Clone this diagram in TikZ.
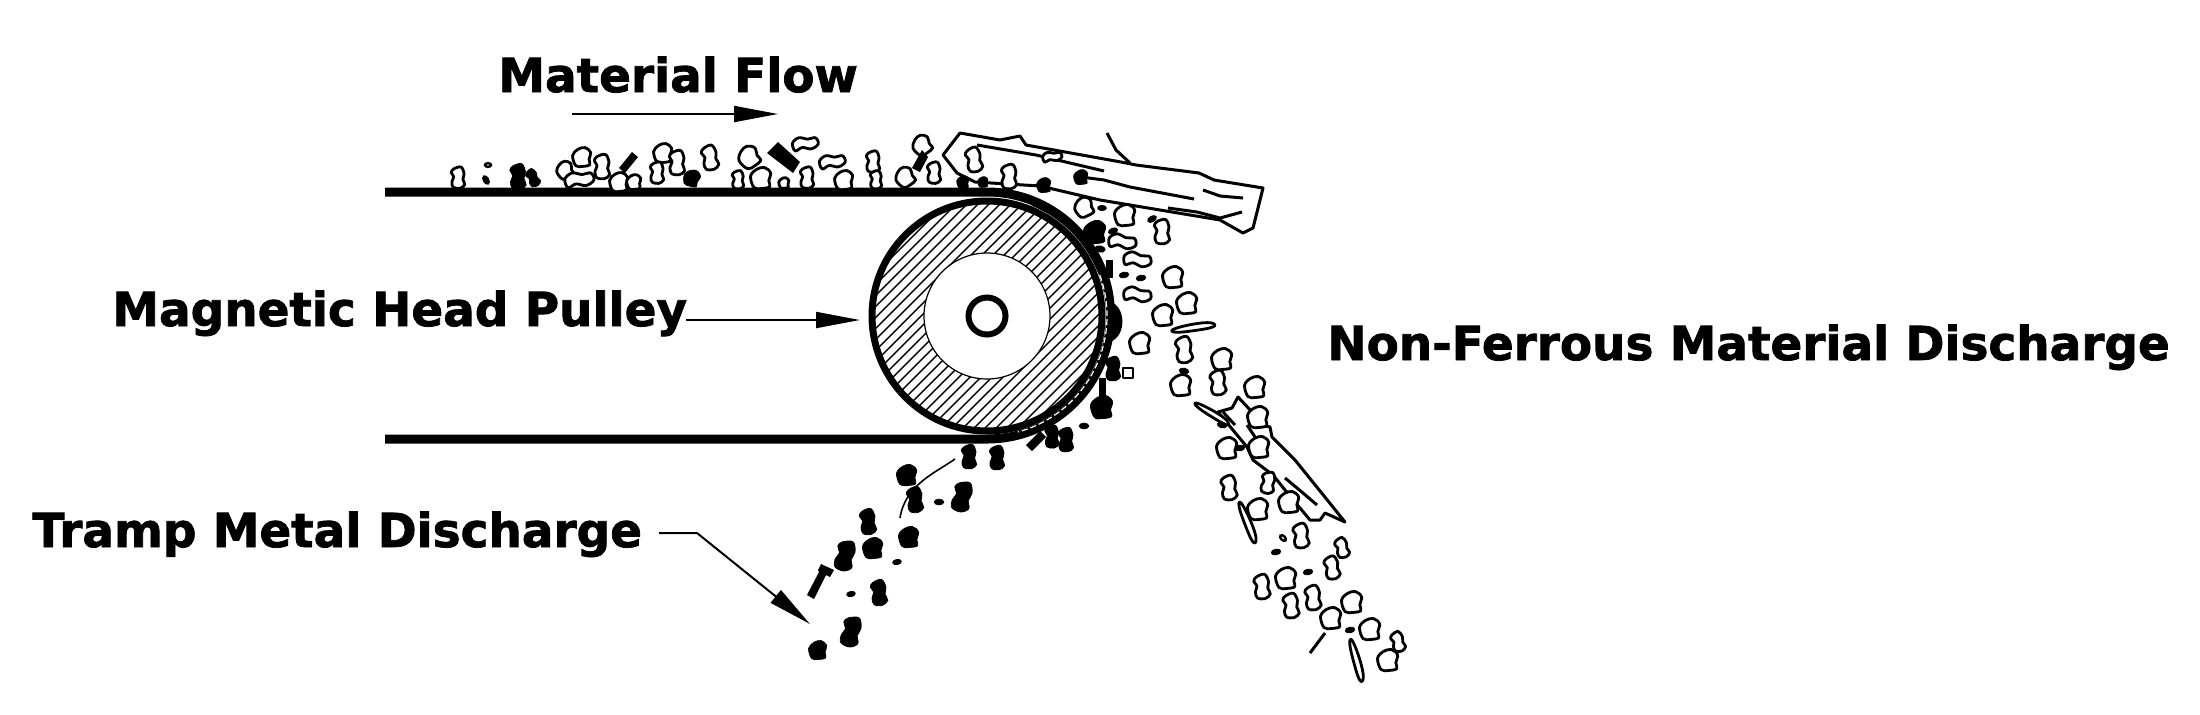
\documentclass[tikz,border=0pt]{standalone}
\usepackage{fontspec}
\usetikzlibrary{arrows.meta}
\newfontfamily\labelfont[FakeBold=1.6]{DejaVu Sans Bold}

\tikzset{
  rock/.style={draw,fill=white,line width=1.4pt,line join=round},
  slug/.style={draw,fill=black,line width=0.4pt},
  caption/.style={anchor=base west,inner sep=0pt,font=\labelfont\fontsize{23.45}{28}\selectfont},
  leader/.style={line width=1pt,-{Triangle[length=22pt,width=8pt]}},
  timber/.style={line width=1.5pt,line join=round},
  blob/.pic={\path[pic actions] plot[smooth cycle,tension=0.6] coordinates {(-12,-2) (-5,-10) (4,-12) (11,-6) (9,3) (10,10) (1,12) (-8,11)};},
  peanut/.pic={\path[pic actions] plot[smooth cycle,tension=0.6] coordinates {(-7,-15) (5,-18) (10,-7) (8,2) (11,11) (3,17) (-8,15) (-10,6) (-7,-2) (-11,-9)};},
  bean/.pic={\path[pic actions] plot[smooth cycle,tension=0.6] coordinates {(-18,-1) (-9,-9) (4,-7) (15,-9) (19,0) (9,7) (-4,5) (-14,10)};},
  sliver/.pic={\path[pic actions] plot[smooth cycle,tension=0.7] coordinates {(-20,4) (0,-3) (18,-6) (21,-2) (0,4) (-18,7)};},
  pellet/.pic={\path[pic actions] (0,0) ellipse[x radius=5,y radius=3];},
}
\newcommand{\rocks}[3]{\foreach \x/\y/\r/\s in {#3} \pic[#1,rotate=\r,scale=0.87*\s] at (\x,\y) {#2};}

\begin{document}
\begin{tikzpicture}[x=0.5pt,y=-0.5pt]
  \useasboundingbox (0,0) rectangle (2200,714);

  % Pulley
  \coordinate (hub) at (987,316);
  \begin{scope}[shift={(hub)}]
    \clip (0,0) circle[radius=116];
    \foreach \d in {-176,-165,...,176}
      \draw[line width=0.7pt] (\d-130,130) -- (\d+130,-130);
  \end{scope}
  \draw[fill=white,line width=0.6pt] (hub) circle[radius=63];
  \draw[line width=3pt] (hub) circle[radius=18.5];
  \draw[line width=3.5pt] (hub) circle[radius=115];

  % Belt
  \coordinate (topleft) at (385,192);
  \coordinate (bottomleft) at (385,439);
  \draw[line width=4.5pt] (topleft) -- (987,192) arc[start angle=-90,end angle=90,radius=123.5] -- (bottomleft);
  \draw[line width=3pt] (hub)++(-68:122) arc[start angle=-68,end angle=-22,radius=122];
  \draw[white,line width=0.6pt,dash pattern=on 3pt off 1.5pt] (hub)++(-20:120) arc[start angle=-20,end angle=75,radius=120];

  % Log on top
  \draw[timber,fill=white] (960,133) -- (1000,140) -- (1020,136) -- (1026,145) -- (1121,162) -- (1136,165) -- (1199,173) -- (1214,180) -- (1263,188) -- (1253,228) -- (1243,233) -- (1220,220) -- (1100,200) -- (1040,186) -- (975,182) -- (957,173) -- (943,155) -- cycle;
  \draw[timber] (977,145) -- (1036,155) -- (1104,171);
  \draw[timber] (1081,177) -- (1104,180) -- (1130,187) -- (1194,199);
  \draw[timber] (1203,190) -- (1220,196) -- (1243,198);
  \draw[timber] (1168,208) -- (1197,212) -- (1220,218) -- (1242,212);
  \draw[timber] (1107,133) -- (1116,150) -- (1130,163);

  % Log on the way down
  \draw[timber,fill=white] (1218,412) -- (1232,408) -- (1238,397) -- (1252,412) -- (1262,425) -- (1270,427) -- (1272,437) -- (1290,455) -- (1295,460) -- (1345,522) -- (1325,513) -- (1320,520) -- (1310,520) -- (1285,490) -- (1273,475) -- (1253,460) -- (1247,447) -- cycle;
  \draw[timber] (1223,412) -- (1235,425);
  \draw[timber] (1247,425) -- (1255,437);
  \draw[timber] (1285,478) -- (1303,493) -- (1317,505);

  % Non-ferrous material
  \rocks{rock}{blob}{582/157/0/0.9, 565/170/20/0.8, 619/182/0/0.9, 634/182/0/0.7, 663/153/0/0.9, 749/157/30/1, 761/178/0/1, 844/180/0/0.9, 905/177/30/0.9, 922/145/30/0.9, 784/183/0/0.5, 1084/207/20/0.9, 1125/215/0/1, 1173/277/0/1, 1187/303/0/1, 1163/315/0/1, 1140/343/0/1, 1181/385/0/1, 1222/359/0/1, 1255/387/0/1, 1258/417/0/1, 1227/448/0/1, 1259/447/0/1, 1289/502/0/1, 1258/509/0/1, 1286/578/0/1, 1352/602/0/1, 1331/618/0/1, 1370/629/0/1, 1388/660/0/1}
  \rocks{rock}{peanut}{458/178/0/0.7, 602/167/0/0.8, 657/173/0/0.7, 677/163/0/0.8, 710/158/10/0.8, 738/180/0/0.6, 807/178/0/0.7, 873/162/0/0.7, 876/180/0/0.6, 934/173/0/0.7, 974/160/10/0.8, 1009/177/0/0.8, 1162/232/0/0.8, 1184/350/5/0.85, 1218/383/5/0.8, 1268/483/-10/0.7, 1229/488/5/0.8, 1301/536/5/0.8, 1342/548/15/0.65, 1332/568/10/0.75, 1262/587/5/0.8, 1313/598/5/0.8, 1291/606/5/0.8, 1398/642/15/0.65}
  \rocks{rock}{bean}{579/180/0/0.9, 805/144/0/0.8, 832/162/0/0.8, 1052/157/0/0.6, 1122/242/-15/0.85, 1137/260/-15/0.85, 1137/295/-15/0.85}
  \rocks{rock}{sliver}{1193/327/-5/1.1, 1212/413/-45/1, 1248/522/-82/1.1, 1357/660/-88/1.1}
  \rocks{slug,fill=white,line width=1.2pt}{pellet}{488/165/0/0.7, 1283/538/-45/0.8}
  \draw[rock,line width=1pt] (1123,368) rectangle (1133,378);
  \draw[timber] (1325,633) -- (1310,653);

  % Tramp metal
  \rocks{slug}{blob}{692/178/-20/0.8, 963/182/0/0.6, 983/182/0/0.5, 1044/185/0/0.7, 1081/177/0/0.7, 1095/232/0/1.1, 1102/407/0/1.1, 907/475/0/1, 909/537/0/1, 873/548/0/1, 818/650/0/0.9}
  \rocks{slug}{peanut}{518/177/0/0.85, 533/178/25/0.6, 1113/369/0/0.8, 1052/437/0/0.75, 1066/440/0/0.8, 969/457/0/0.8, 997/458/0/0.8, 962/497/-15/1, 915/500/5/0.85, 868/522/5/0.85, 845/556/-15/1, 879/593/5/0.85, 851/632/-15/1}
  \rocks{slug}{pellet}{486/180/-60/1.1, 1102/208/0/1, 1113/231/20/1.1, 1152/219/30/1.1, 1124/275/10/1.1, 1141/278/10/1.1, 1184/371/-10/1.1, 1222/425/-15/1.1, 1240/448/10/1.1, 1276/552/10/1.1, 1308/572/10/1.1, 1350/630/10/1.1, 1100/249/-10/1.2, 1084/426/0/1.1, 939/502/0/1.1, 897/562/10/1, 851/594/10/1}
  \fill (632,152) -- (638,157) -- (625,173) -- (619,168) -- cycle;
  \fill (778,142) -- (767,153) -- (793,173) -- (800,162) -- cycle;
  \fill (922,150) -- (912,168) -- (920,172) -- (928,157) -- cycle;
  \fill (1106,260) rectangle (1113,278);
  \fill (1099,378) rectangle (1106,397);
  \fill (1110,302) .. controls (1125,305) and (1128,335) .. (1110,342) -- cycle;
  \fill (1026,445) -- (1040,431) -- (1046,437) -- (1032,451) -- cycle;
  \fill (821,564) -- (834,570) -- (830,577) -- (826,575) -- (814,599) -- (807,595) -- (819,572) -- (818,570) -- cycle;

  % Thin strand
  \draw[line width=0.8pt] (955,459) .. controls (935,473) and (905,485) .. (900,518);

  % Labels
  \node[caption] (flow) at (498,92) {Material Flow};
  \node[caption] (pulleylabel) at (112,326) {Magnetic Head Pulley};
  \node[caption] (nonferrous) at (1327,360) {Non-Ferrous Material Discharge};
  \node[caption] (tramp) at (32,547) {Tramp Metal Discharge};

  % Arrows
  \coordinate (flowstart) at (572,114);
  \coordinate (flowtip) at (778,114);
  \coordinate (pulleystart) at (686,320);
  \coordinate (pulleytip) at (860,320);
  \coordinate (trampbend) at (697,533);
  \coordinate (tramptip) at (810,624);
  \draw[leader] (flowstart) -- (flowtip);
  \draw[leader] (pulleystart) -- (pulleytip);
  \draw[leader] (659,533) -- (trampbend) -- (tramptip);
\end{tikzpicture}
\end{document}
